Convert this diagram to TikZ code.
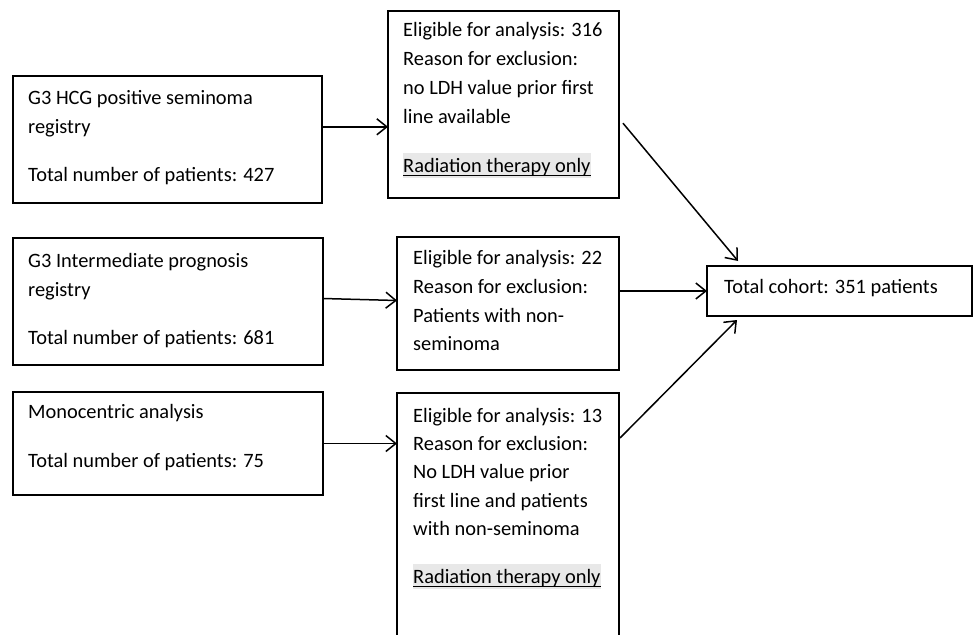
\documentclass[tikz,border=0pt]{standalone}
\usepackage{fontspec}
\setmainfont{Carlito}
\usetikzlibrary{arrows.meta,calc}
\definecolor{hl}{RGB}{232,232,232}
\begin{document}
\begin{tikzpicture}[x=1pt,y=-1pt,
  box/.style={draw, line width=1.7pt, anchor=north west, inner sep=0pt, outer sep=0pt},
  txt/.style={anchor=base west, inner sep=0pt, font=\fontsize{20.4}{24}\selectfont},
  hlt/.style={txt, fill=hl, text height=19pt, text depth=6pt},
  uline/.style={line width=1.4pt},
  arr/.style={line width=1.5pt, -{Straight Barb[length=10pt,width=16pt]}}]
\useasboundingbox (0,0) rectangle (973,634);
\clip (0,0) rectangle (973,634);
% left boxes
\node[box, minimum width=309pt, minimum height=127pt] (a1) at (13,76) {};
\node[box, minimum width=310pt, minimum height=127pt] (a2) at (13,238) {};
\node[box, minimum width=310pt, minimum height=103pt] (a3) at (13,392) {};
% middle boxes
\node[box, minimum width=231pt, minimum height=187pt] (b1) at (388,11) {};
\node[box, minimum width=222pt, minimum height=133pt] (b2) at (397,237) {};
\node[box, minimum width=222pt, minimum height=260pt] (b3) at (397,393) {};
% result box
\node[box, minimum width=265pt, minimum height=50pt] (c) at (707,266) {};
% texts A1
\node[txt] (a1l1) at (28,104) {G3 HCG positive seminoma};
\node[txt] (a1l2) at (28,133) {registry};
\node[txt] (a1l3) at (28,181) {Total number of patients: 427};
% texts A2
\node[txt] (a2l1) at (28,267) {G3 Intermediate prognosis};
\node[txt] (a2l2) at (28,296) {registry};
\node[txt] (a2l3) at (28,344) {Total number of patients: 681};
% texts A3
\node[txt] (a3l1) at (28,418) {Monocentric analysis};
\node[txt] (a3l2) at (28,467) {Total number of patients: 75};
% texts B1
\node[txt] (b1l1) at (403,37) {Eligible for analysis: 316};
\node[txt] (b1l2) at (403,66) {Reason for exclusion:};
\node[txt] (b1l3) at (403,94) {no LDH value prior first};
\node[txt] (b1l4) at (403,123) {line available};
\node[hlt] (r1) at (403,172) {Radiation therapy only};
\draw[uline] ($(r1.base west)+(0,3.5)$) -- ($(r1.base east)+(0,3.5)$);
% texts B2
\node[txt] (b2l1) at (413,264) {Eligible for analysis: 22};
\node[txt] (b2l2) at (413,293) {Reason for exclusion:};
\node[txt] (b2l3) at (413,322) {Patients with non-};
\node[txt] (b2l4) at (413,350) {seminoma};
% texts B3
\node[txt] (b3l1) at (413,422) {Eligible for analysis: 13};
\node[txt] (b3l2) at (413,450) {Reason for exclusion:};
\node[txt] (b3l3) at (413,478) {No LDH value prior};
\node[txt] (b3l4) at (413,507) {first line and patients};
\node[txt] (b3l5) at (413,535) {with non-seminoma};
\node[hlt] (r3) at (413,583) {Radiation therapy only};
\draw[uline] ($(r3.base west)+(0,3.5)$) -- ($(r3.base east)+(0,3.5)$);
% text C
\node[txt] (cl1) at (724,293) {Total cohort: 351 patients};
% connectors
\coordinate (p1) at ($(a1.north east)!0.4!(a1.south east)$);
\draw[arr] (p1) -- (p1 -| b1.west);
\draw[arr] ($(a2.east)+(0,-3)$) -- ($(b2.west)+(0,-3)$);
\draw[arr] (a3.east) -- (a3.east -| b3.west);
\draw[arr] ($(b1.north east)!0.6!(b1.south east)+(4,0)$) -- ($(c.north west)+(31,-5)$);
\draw[arr] (b2.east |- c.west) -- (c.west);
\draw[arr] ($(b3.north east)+(1,45)$) -- ($(c.south west)+(30,4)$);
\end{tikzpicture}
\end{document}
